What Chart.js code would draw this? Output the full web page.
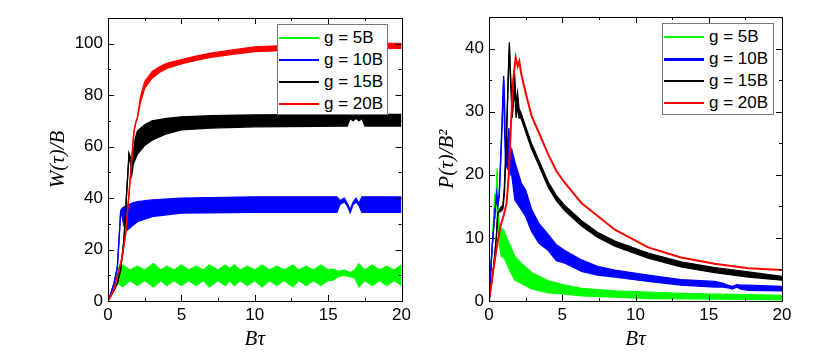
<!DOCTYPE html>
<html lang="en">
<head>
<meta charset="UTF-8">
<title>W(tau) and P(tau)</title>
<script src="https://cdn.jsdelivr.net/npm/chart.js@4.4.0/dist/chart.umd.min.js"></script>
<style>
  body { margin: 0; background: #fff; }
  #wrap { position: relative; width: 831px; height: 360px; }
  canvas { position: absolute; top: 0; }
  .legend {
    position: absolute; box-sizing: border-box; border: 1px solid #777;
    background: #fff; padding-top: 2px; color: #000;
    font-family: Arial, "Liberation Sans", sans-serif; font-size: 17px;
  }
  .legend .row { display: flex; align-items: center; height: 22px; white-space: nowrap; }
  .legend .swatch { width: 40px; margin-left: 1px; margin-right: 5px; }
</style>
</head>
<body>
<div id="wrap">
  <canvas id="left" width="415" height="360" style="left:0"></canvas>
  <canvas id="right" width="416" height="360" style="left:415px"></canvas>
  <div class="legend" id="legLeft" style="left:277px; top:24px; width:111px; height:91px"></div>
  <div class="legend" id="legRight" style="left:662px; top:23px; width:112px; height:92px"></div>
</div>
<script>
// series labels and colours
const labels = ['g = 5B', 'g = 10B', 'g = 15B', 'g = 20B'];
const colors = ['#00ff00', '#0000ff', '#000000', '#ff0000'];

// left panel: W(tau)/B, upper and lower edge of each oscillating band
const tauW5 = [0, 0.2, 0.4, 0.55, 0.7, 1.0, 1.5, 2.0, 2.5, 3.1, 3.6, 4.0, 4.5, 5.0, 5.5, 6.0, 6.5, 6.9, 7.5, 8.0, 8.3, 8.6, 9.0, 9.5, 10.0, 10.5, 11.0, 11.5, 12.0, 12.6, 13.0, 13.5, 14.0, 14.5, 15.0, 15.3, 15.7, 16.1, 16.5, 16.8, 17.1, 17.5, 18.0, 18.5, 19.0, 19.5, 20.0];
const hiW5 = [0, 2, 6, 10, 13, 14, 12, 13.5, 12, 14.5, 12, 13.5, 12, 14, 12, 13.5, 12, 14, 12, 14, 12.5, 14, 12, 13.5, 12, 14, 12, 13.5, 12, 14, 12, 13.5, 12, 14, 12, 12.5, 11.5, 12, 11, 12, 14.5, 12, 14, 12, 13.5, 12, 14];
const loW5 = [0, 2, 6, 9, 7, 5.5, 8, 6, 8, 5.5, 8, 6, 8, 6, 8, 6, 8, 5.5, 8, 6, 8, 6, 8, 6, 8, 5.5, 8, 6, 8, 5.5, 8, 6, 8, 6, 8, 8, 9.5, 10, 9.5, 9, 5.5, 8, 6, 8, 6, 8, 6];

const tauW10 = [0, 0.2, 0.41, 0.64, 0.75, 0.86, 0.95, 1.1, 1.3, 1.6, 2.0, 3.0, 5.0, 10.0, 15.6, 15.8, 16.1, 16.3, 16.5, 16.7, 16.9, 17.1, 17.3, 20.0];
const hiW10 = [0, 3, 6.9, 13.3, 23.7, 35, 36, 36.6, 37, 38, 38.6, 39.3, 40, 40.5, 40.5, 39, 40, 38, 35.5, 38.5, 40, 38, 40.5, 40.5];
const loW10 = [0, 3, 6.9, 13.3, 23.7, 34, 33, 29, 27.5, 29, 30.8, 32.8, 34.2, 34.5, 34.5, 37.5, 38.5, 37, 34.3, 37.5, 38.5, 37, 34.5, 34.5];

const tauW15 = [0, 0.4, 0.64, 0.86, 1.09, 1.25, 1.43, 1.52, 1.62, 1.72, 1.85, 2.0, 2.5, 3.0, 4.0, 5.0, 7.0, 10.0, 16.3, 16.5, 16.7, 16.9, 17.1, 17.3, 17.5, 20.0];
const hiW15 = [0, 4, 7, 12, 24, 40, 57.5, 56, 51, 57, 63, 66, 68.5, 70, 71, 71.6, 72, 72.3, 72.5, 73.5, 71.5, 73.5, 71.5, 73.5, 72.5, 72.5];
const loW15 = [0, 4, 7, 12, 24, 40, 56.5, 54, 49, 53, 55, 57, 60.5, 62.5, 65, 66.5, 67.2, 67.7, 68, 71, 70, 71, 70, 71, 68, 68];

const tauW20 = [0, 0.4, 0.86, 1.0, 1.2, 1.32, 1.45, 1.6, 1.77, 1.9, 2.0, 2.2, 2.5, 3.0, 3.5, 4.0, 5.0, 6.0, 7.0, 8.5, 10.0, 13.0, 16.0, 20.0];
const hiW20 = [0, 4.3, 14.6, 18, 26, 34, 43, 54, 66, 69.5, 71, 79, 85.2, 89.1, 91, 92.4, 93.8, 95.2, 96.3, 97.6, 98.8, 99.5, 100, 100.1];
const loW20 = [0, 4.3, 14.6, 18, 26, 34, 43, 54, 66, 69.5, 71, 77, 82.7, 86.6, 88.8, 90.4, 92.2, 93.5, 94.7, 95.9, 96.9, 97.6, 98, 98.2];

// right panel: P(tau)/B^2
const tauP5 = [0, 0.15, 0.3, 0.4, 0.45, 0.55, 0.62, 0.7, 0.85, 1.0, 1.2, 1.5, 1.77, 2.2, 2.91, 4.05, 5.18, 6.32, 8.59, 10.86, 13.1, 15.4, 17.7, 20.0];
const hiP5 = [0, 6, 12, 17, 14, 21, 15, 12, 11.5, 11.3, 10, 8.5, 7, 6, 4.5, 3.2, 2.5, 2.0, 1.6, 1.4, 1.2, 1.1, 1.0, 0.9];
const loP5 = [0, 6, 12, 16, 13, 20, 12, 9, 7, 7, 6, 4.5, 3.3, 2.8, 1.9, 1.3, 1.1, 0.8, 0.6, 0.4, 0.35, 0.3, 0.25, 0.2];

const tauP10 = [0, 0.2, 0.4, 0.52, 0.6, 0.7, 0.85, 1.0, 1.05, 1.13, 1.25, 1.36, 1.45, 1.55, 1.77, 2.2, 2.5, 2.91, 3.4, 4.05, 4.6, 5.18, 6.32, 7.4, 8.59, 10.86, 13.1, 15.4, 16.0, 16.3, 16.6, 16.9, 17.2, 17.7, 20.0];
const hiP10 = [0, 8, 14, 17.1, 15.5, 17, 26, 35.7, 33, 24, 25, 27.4, 23, 24, 22, 18.7, 17.6, 14.5, 12.3, 10.5, 8.9, 8, 6.5, 5.5, 4.9, 4.1, 3.4, 3.1, 2.8, 2.5, 2.3, 2.6, 2.5, 2.5, 2.3];
const loP10 = [0, 8, 14, 16.5, 15, 16.5, 25, 35, 28, 21.9, 21, 22, 20, 20, 16, 14.5, 13.4, 11, 9.2, 8, 6.4, 6, 4.7, 4.1, 3.8, 3.1, 2.5, 2.2, 2.2, 2.1, 1.9, 2.2, 1.9, 1.7, 1.6];

const tauP15 = [0, 0.3, 0.5, 0.6, 0.8, 0.95, 1.05, 1.2, 1.3, 1.39, 1.47, 1.58, 1.68, 1.75, 1.85, 1.95, 2.05, 2.2, 2.5, 2.91, 3.4, 4.05, 4.6, 5.18, 6.32, 7.4, 8.59, 10.86, 13.1, 15.4, 17.7, 20.0];
const hiP15 = [0, 5, 10, 14, 14.8, 15.2, 18, 27, 35, 41, 36, 31, 34, 36, 31, 33, 30.5, 29.7, 27.6, 24.9, 22.3, 18.8, 16.7, 15.1, 12.7, 10.9, 9.5, 7.6, 6.2, 5.3, 4.6, 3.9];
const loP15 = [0, 5, 10, 14, 14.2, 14.6, 17, 26, 34, 40, 35, 29, 31.5, 34, 29, 31, 29, 28.9, 26.8, 24.1, 21.5, 18.0, 15.9, 14.3, 11.9, 10.1, 8.7, 6.8, 5.4, 4.5, 3.8, 3.3];

const tauP20 = [0, 0.3, 0.6, 0.8, 1.0, 1.2, 1.35, 1.5, 1.65, 1.82, 1.96, 2.07, 2.2, 2.5, 2.91, 3.4, 4.05, 4.6, 5.18, 6.32, 7.4, 8.59, 10.86, 13.1, 15.4, 17.7, 20.0];
const pP20 = [0, 5, 9.5, 12, 13.5, 15.5, 20, 28, 35, 38.6, 37.2, 38, 36, 33, 29.3, 26.7, 23.2, 20.6, 18.7, 15.5, 13.5, 11.3, 8.5, 6.9, 5.9, 5.2, 4.9];

const xTicks = [0, 5, 10, 15, 20];

Chart.defaults.font.family = 'Arial, "Liberation Sans", sans-serif';
Chart.defaults.font.size = 17;
Chart.defaults.color = '#000';

// one series = top edge line, plus a lower edge filled up to it when given
function band(tau, hi, lo, idx, width = 1.3) {
  const sets = [{
    label: labels[idx],
    data: tau.map((t, i) => ({x: t, y: hi[i]})),
    borderColor: colors[idx], borderWidth: width, fill: false, order: 4 - idx
  }];
  if (lo) {
    sets.push({
      label: labels[idx] + ' low',
      data: tau.map((t, i) => ({x: t, y: lo[i]})),
      borderColor: colors[idx], backgroundColor: colors[idx],
      borderWidth: width, fill: '-1', order: 4 - idx
    });
  }
  return sets;
}

// inward ticks on all four sides plus the frame
const frameTicks = {
  id: 'frameTicks',
  afterDraw(chart) {
    const {ctx, chartArea: a, scales} = chart;
    ctx.save();
    ctx.strokeStyle = '#000';
    ctx.lineWidth = 1;
    ctx.strokeRect(Math.round(a.left) + 0.5, Math.round(a.top) + 0.5,
      Math.round(a.right - a.left), Math.round(a.bottom - a.top));
    const drawX = (v, len) => {
      const p = Math.round(scales.x.getPixelForValue(v)) + 0.5;
      ctx.beginPath();
      ctx.moveTo(p, a.bottom); ctx.lineTo(p, a.bottom - len);
      ctx.moveTo(p, a.top); ctx.lineTo(p, a.top + len);
      ctx.stroke();
    };
    const drawY = (v, len) => {
      const p = Math.round(scales.y.getPixelForValue(v)) + 0.5;
      ctx.beginPath();
      ctx.moveTo(a.left, p); ctx.lineTo(a.left + len, p);
      ctx.moveTo(a.right, p); ctx.lineTo(a.right - len, p);
      ctx.stroke();
    };
    const xt = scales.x.ticks.map(t => t.value);
    xt.forEach((v, i) => {
      drawX(v, 6);
      if (i < xt.length - 1) drawX((v + xt[i + 1]) / 2, 3);
    });
    const yt = scales.y.ticks.map(t => t.value);
    const ystep = yt[1] - yt[0];
    yt.forEach(v => {
      drawY(v, 6);
      if (v + ystep / 2 < scales.y.max) drawY(v + ystep / 2, 3);
    });
    ctx.restore();
  }
};

function makeChart(id, datasets, yMax, yStep, yTitle, yWidth, titlePad, padTop, padRight) {
  return new Chart(document.getElementById(id), {
    type: 'line',
    data: {datasets},
    options: {
      responsive: false,
      animation: false,
      layout: {padding: {left: 0, top: padTop, right: padRight, bottom: 0}},
      elements: {point: {radius: 0}, line: {tension: 0}},
      plugins: {legend: {display: false}, tooltip: {enabled: false}},
      scales: {
        x: {
          type: 'linear', min: 0, max: 20,
          afterBuildTicks: s => { s.ticks = xTicks.map(v => ({value: v})); },
          ticks: {padding: 4, maxRotation: 0, color: '#000'},
          grid: {display: false, drawTicks: false},
          border: {display: false},
          title: {
            display: true, text: 'Bτ', color: '#000',
            font: {family: '"Liberation Serif", "DejaVu Serif", serif', style: 'italic', size: 21},
            padding: {top: 0, bottom: 8}
          },
          afterFit: s => { s.height = 59; }
        },
        y: {
          type: 'linear', min: 0, max: yMax,
          ticks: {stepSize: yStep, includeBounds: false, padding: 5, color: '#000'},
          grid: {display: false, drawTicks: false},
          border: {display: false},
          title: {
            display: true, text: yTitle, color: '#000',
            font: {family: '"Liberation Serif", "DejaVu Serif", serif', style: 'italic', size: 21},
            padding: {top: titlePad, bottom: 0}
          },
          afterFit: s => { s.width = yWidth; }
        }
      }
    },
    plugins: [frameTicks]
  });
}

makeChart('left', [
  ...band(tauW5, hiW5, loW5, 0),
  ...band(tauW10, hiW10, loW10, 1),
  ...band(tauW15, hiW15, loW15, 2),
  ...band(tauW20, hiW20, loW20, 3)
], 110, 20, 'W(τ)/B', 108, 46, 18, 13);

makeChart('right', [
  ...band(tauP5, hiP5, loP5, 0),
  ...band(tauP10, hiP10, loP10, 1),
  ...band(tauP15, hiP15, loP15, 2),
  ...band(tauP20, pP20, null, 3, 2)
], 45, 10, 'P(τ)/B²', 74, 20, 17, 49);

// legends drawn as html boxes inside the plot corners
function fillLegend(id, widths) {
  const box = document.getElementById(id);
  labels.forEach((lab, i) => {
    const row = document.createElement('div');
    row.className = 'row';
    const sw = document.createElement('div');
    sw.className = 'swatch';
    sw.style.borderTop = widths[i] + 'px solid ' + colors[i];
    const txt = document.createElement('span');
    txt.textContent = lab;
    row.appendChild(sw);
    row.appendChild(txt);
    box.appendChild(row);
  });
}
fillLegend('legLeft', [2, 2, 2, 2]);
fillLegend('legRight', [2, 3, 2, 2]);
</script>
</body>
</html>
